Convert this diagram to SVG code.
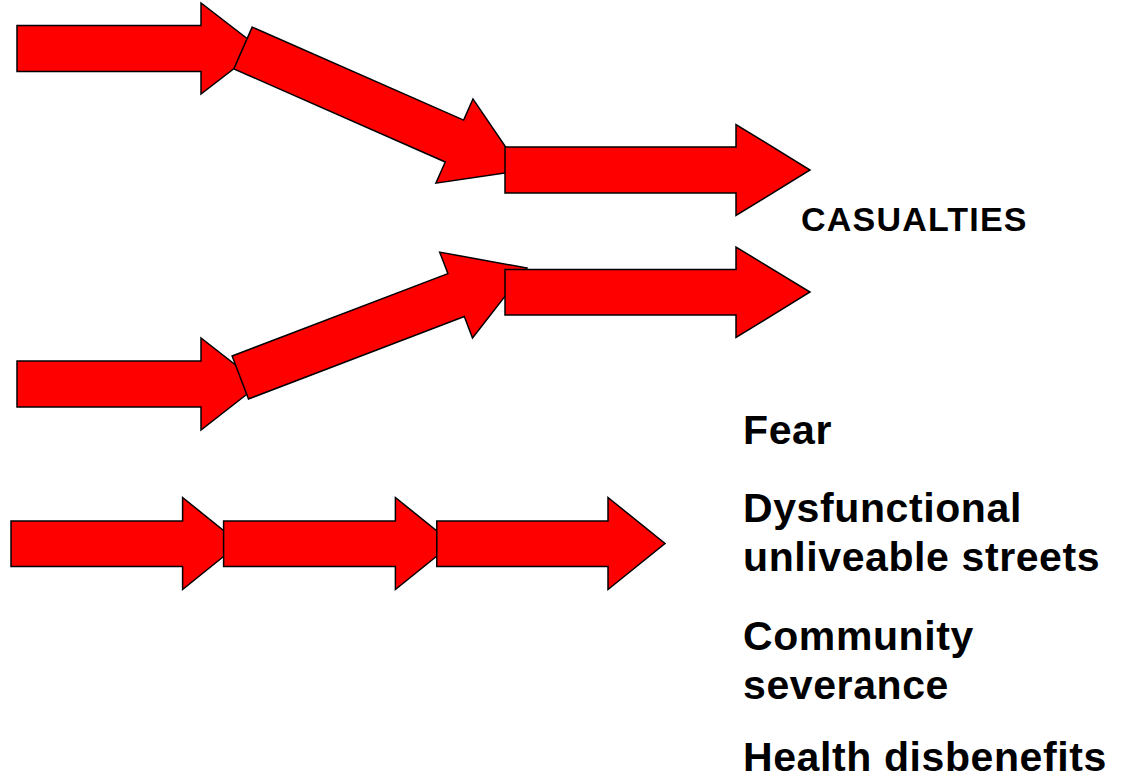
<svg xmlns="http://www.w3.org/2000/svg" width="1124" height="780" viewBox="0 0 1124 780">
  <style>
    .arrow { fill: #FF0000; stroke: #000000; stroke-width: 1.5; stroke-linejoin: miter; }
    .lbl { font-family: "Liberation Sans", Arial, sans-serif; font-weight: bold; fill: #000000; }
    .big { font-size: 41px; letter-spacing: 0.6px; }
    .cas { font-size: 34px; letter-spacing: 1.2px; }
  </style>
  <rect width="1124" height="780" fill="#FFFFFF"/>

  <!-- top chain -->
  <g id="arrow-top-1">
    <polygon class="arrow" points="17,25.5 201,25.5 201,3 260,48.5 201,94 201,71.5 17,71.5"/>
  </g>
  <g id="arrow-top-2" transform="translate(243,48) rotate(23.75)">
    <polygon class="arrow" points="0,-22.85 231,-22.85 231,-46 304.5,0 231,46 231,22.85 0,22.85"/>
  </g>
  <g id="arrow-top-3">
    <polygon class="arrow" points="505,147 736,147 736,124.5 810,170 736,215.5 736,193 505,193"/>
  </g>

  <!-- middle chain -->
  <g id="arrow-mid-1">
    <polygon class="arrow" points="17,361 201,361 201,338 260,384 201,430 201,407 17,407"/>
  </g>
  <g id="arrow-mid-2" transform="translate(240.3,377.5) rotate(-20.9)">
    <polygon class="arrow" points="0,-23 231,-23 231,-46 306.9,0 231,46 231,23 0,23"/>
  </g>
  <g id="arrow-mid-3">
    <polygon class="arrow" points="505,269.5 736,269.5 736,247 810,292 736,337.5 736,315 505,315"/>
  </g>

  <!-- bottom chain -->
  <g id="arrow-bot-1">
    <polygon class="arrow" points="11,521 182.6,521 182.6,497.5 239.6,543.5 182.6,589.5 182.6,566.5 11,566.5"/>
  </g>
  <g id="arrow-bot-2">
    <polygon class="arrow" points="223.6,521 395.4,521 395.4,497.5 452.4,543.5 395.4,589.5 395.4,566.5 223.6,566.5"/>
  </g>
  <g id="arrow-bot-3">
    <polygon class="arrow" points="436.8,521 608,521 608,497.5 665,543.5 608,589.5 608,566.5 436.8,566.5"/>
  </g>

  <!-- labels -->
  <g id="label-casualties">
    <text class="lbl cas" x="801" y="231">CASUALTIES</text>
  </g>
  <g id="label-fear">
    <text class="lbl big" x="743" y="444">Fear</text>
  </g>
  <g id="label-dysfunctional">
    <text class="lbl big" x="743" y="522">Dysfunctional</text>
    <text class="lbl big" x="743" y="571">unliveable streets</text>
  </g>
  <g id="label-community">
    <text class="lbl big" x="743" y="650">Community</text>
    <text class="lbl big" x="743" y="699">severance</text>
  </g>
  <g id="label-health">
    <text class="lbl big" x="743" y="771">Health disbenefits</text>
  </g>
</svg>
